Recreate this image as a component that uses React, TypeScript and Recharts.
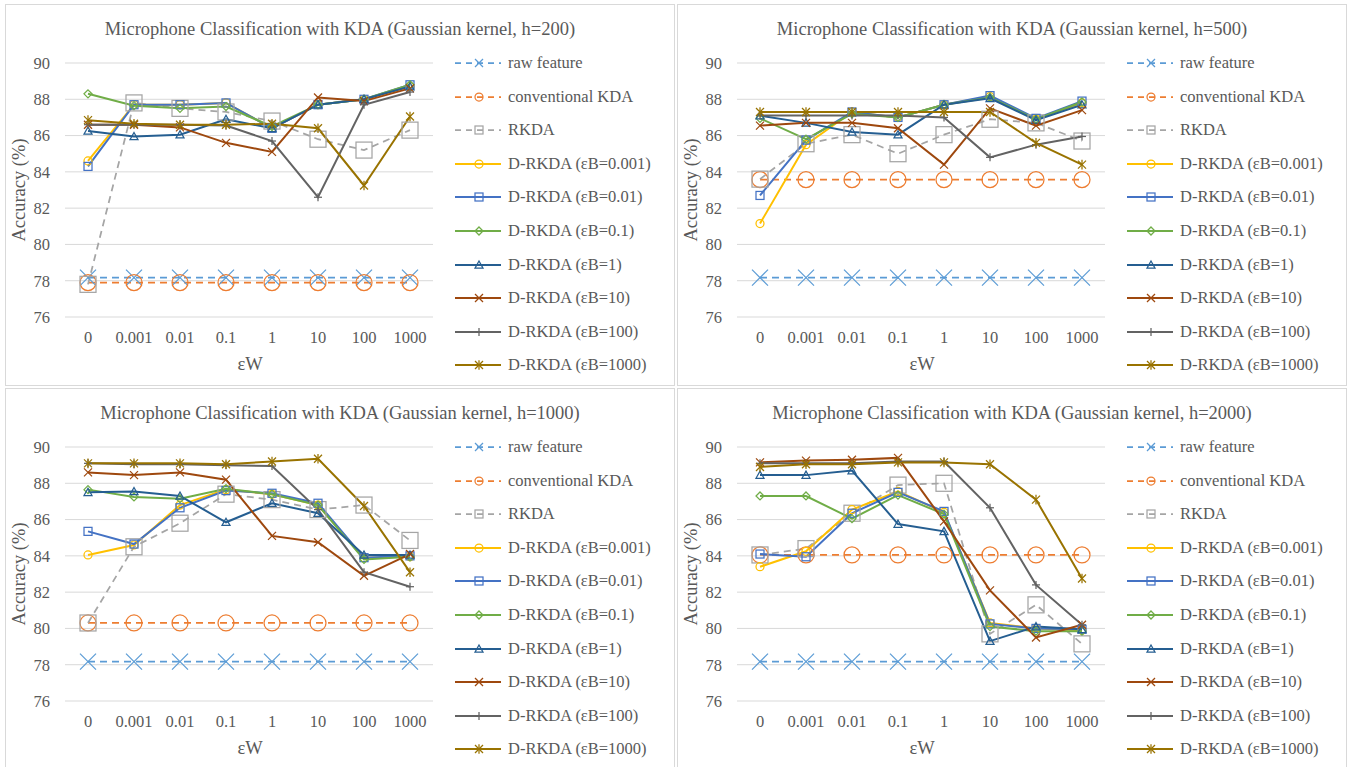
import React from 'react'
import { LineChart, Line, XAxis, YAxis, CartesianGrid } from 'recharts'

const CATEGORIES = ['0', '0.001', '0.01', '0.1', '1', '10', '100', '1000']
const Y_TICKS = [76, 78, 80, 82, 84, 86, 88, 90]

const SERIES_NAMES = [
  'raw feature',
  'conventional KDA',
  'RKDA',
  'D-RKDA (εB=0.001)',
  'D-RKDA (εB=0.01)',
  'D-RKDA (εB=0.1)',
  'D-RKDA (εB=1)',
  'D-RKDA (εB=10)',
  'D-RKDA (εB=100)',
  'D-RKDA (εB=1000)',
]
const COLORS = ['#5B9BD5', '#ED7D31', '#A5A5A5', '#FFC000', '#4472C4', '#70AD47', '#255E91', '#9E480E', '#636363', '#997300']
const SHAPES = ['x', 'circle', 'square', 'circle', 'square', 'diamond', 'triangle', 'x', 'plus', 'star']

// one row per series, same order as SERIES_NAMES
const H200 = [
  [78.17, 78.17, 78.17, 78.17, 78.17, 78.17, 78.17, 78.17],
  [77.9, 77.9, 77.9, 77.9, 77.9, 77.9, 77.9, 77.9],
  [77.8, 87.8, 87.5, 87.3, 86.8, 85.8, 85.2, 86.3],
  [84.6, 87.7, 87.7, 87.8, 86.4, 87.7, 88.0, 88.7],
  [84.3, 87.7, 87.7, 87.8, 86.4, 87.7, 88.0, 88.8],
  [88.3, 87.65, 87.5, 87.6, 86.5, 87.7, 88.0, 88.8],
  [86.25, 85.95, 86.05, 86.9, 86.4, 87.7, 88.0, 88.7],
  [86.6, 86.6, 86.45, 85.6, 85.1, 88.1, 87.9, 88.6],
  [86.6, 86.6, 86.6, 86.55, 85.7, 82.6, 87.7, 88.4],
  [86.85, 86.65, 86.6, 86.6, 86.65, 86.4, 83.25, 87.05],
]

const H500 = [
  [78.17, 78.17, 78.17, 78.17, 78.17, 78.17, 78.17, 78.17],
  [83.57, 83.57, 83.57, 83.57, 83.57, 83.57, 83.57, 83.57],
  [83.6, 85.55, 86.05, 85.0, 86.05, 86.9, 86.7, 85.7],
  [81.15, 85.5, 87.3, 87.0, 87.7, 88.15, 86.9, 87.8],
  [82.7, 85.75, 87.3, 87.0, 87.7, 88.2, 86.95, 87.9],
  [86.95, 85.8, 87.2, 87.0, 87.7, 88.1, 86.9, 87.85],
  [87.1, 86.7, 86.2, 86.05, 87.7, 88.05, 86.85, 87.7],
  [86.55, 86.7, 86.7, 86.4, 84.4, 87.5, 86.55, 87.4],
  [87.1, 87.1, 87.1, 87.1, 87.0, 84.8, 85.5, 85.95],
  [87.3, 87.3, 87.3, 87.3, 87.3, 87.3, 85.6, 84.4],
]

const H1000 = [
  [78.17, 78.17, 78.17, 78.17, 78.17, 78.17, 78.17, 78.17],
  [80.3, 80.3, 80.3, 80.3, 80.3, 80.3, 80.3, 80.3],
  [80.3, 84.5, 85.8, 87.4, 87.1, 86.55, 86.8, 84.85],
  [84.05, 84.6, 86.8, 87.65, 87.4, 86.8, 83.9, 83.95],
  [85.35, 84.65, 86.65, 87.6, 87.45, 86.9, 83.9, 84.0],
  [87.65, 87.25, 87.15, 87.7, 87.4, 86.8, 83.8, 83.95],
  [87.5, 87.55, 87.3, 85.85, 86.9, 86.35, 84.05, 84.05],
  [88.6, 88.45, 88.6, 88.2, 85.1, 84.75, 82.9, 84.1],
  [89.1, 89.05, 89.05, 89.0, 88.95, 86.55, 83.1, 82.3],
  [89.1, 89.1, 89.1, 89.05, 89.2, 89.35, 86.75, 83.1],
]

const H2000 = [
  [78.17, 78.17, 78.17, 78.17, 78.17, 78.17, 78.17, 78.17],
  [84.05, 84.05, 84.05, 84.05, 84.05, 84.05, 84.05, 84.05],
  [84.05, 84.4, 86.35, 87.9, 88.0, 79.7, 81.3, 79.15],
  [83.4, 84.25, 86.55, 87.55, 86.4, 80.3, 80.0, 79.9],
  [84.1, 83.95, 86.35, 87.5, 86.45, 80.25, 80.0, 79.95],
  [87.3, 87.3, 86.05, 87.35, 86.3, 80.1, 79.85, 79.85],
  [88.45, 88.45, 88.7, 85.75, 85.35, 79.3, 80.1, 79.95],
  [89.15, 89.25, 89.3, 89.4, 85.9, 82.1, 79.5, 80.2],
  [89.1, 89.1, 89.1, 89.2, 89.2, 86.65, 82.4, 80.2],
  [88.9, 89.05, 89.05, 89.15, 89.15, 89.05, 87.1, 82.75],
]

const FONT = 'Liberation Serif, Times New Roman, Times, DejaVu Serif, serif'
const TEXT = '#595959'

function Marker({ shape, cx, cy, color, s }: { shape: string; cx: number; cy: number; color: string; s: number }) {
  const sw = 1.25
  if (shape === 'x')
    return (
      <g stroke={color} strokeWidth={sw}>
        <line x1={cx - s} y1={cy - s} x2={cx + s} y2={cy + s} />
        <line x1={cx - s} y1={cy + s} x2={cx + s} y2={cy - s} />
      </g>
    )
  if (shape === 'circle') return <circle cx={cx} cy={cy} r={s} fill="none" stroke={color} strokeWidth={sw} />
  if (shape === 'square')
    return <rect x={cx - s} y={cy - s} width={2 * s} height={2 * s} fill="none" stroke={color} strokeWidth={sw} />
  if (shape === 'diamond')
    return (
      <polygon
        points={`${cx},${cy - s} ${cx + s},${cy} ${cx},${cy + s} ${cx - s},${cy}`}
        fill="none"
        stroke={color}
        strokeWidth={sw}
      />
    )
  if (shape === 'triangle')
    return (
      <polygon
        points={`${cx},${cy - s} ${cx + s},${cy + s * 0.8} ${cx - s},${cy + s * 0.8}`}
        fill="none"
        stroke={color}
        strokeWidth={sw}
      />
    )
  if (shape === 'plus')
    return (
      <g stroke={color} strokeWidth={sw}>
        <line x1={cx - s} y1={cy} x2={cx + s} y2={cy} />
        <line x1={cx} y1={cy - s} x2={cx} y2={cy + s} />
      </g>
    )
  // star: X plus a vertical bar
  return (
    <g stroke={color} strokeWidth={sw}>
      <line x1={cx - s} y1={cy - s} x2={cx + s} y2={cy + s} />
      <line x1={cx - s} y1={cy + s} x2={cx + s} y2={cy - s} />
      <line x1={cx} y1={cy - s * 1.2} x2={cx} y2={cy + s * 1.2} />
    </g>
  )
}

function markerSize(i: number) {
  return i < 3 ? 8 : 4
}

function Panel({ title, values, left, top }: { title: string; values: number[][]; left: number; top: number }) {
  const rows = CATEGORIES.map((c, j) => {
    const r: { [k: string]: string | number } = { x: c }
    values.forEach((v, i) => {
      r[`s${i}`] = v[j]
    })
    return r
  })

  return (
    <div
      style={{
        position: 'absolute',
        left,
        top,
        width: 670,
        height: 382,
        border: '1px solid #d9d9d9',
        boxSizing: 'border-box',
        background: '#fff',
        fontFamily: FONT,
        color: TEXT,
      }}
    >
      <div style={{ position: 'absolute', left: -1, top: -1 }}>
        <LineChart
          width={670}
          height={380}
          data={rows}
          margin={{ top: 59, right: 242, bottom: 0, left: 0 }}
          style={{ fontFamily: FONT }}
        >
          <CartesianGrid vertical={false} stroke="#d9d9d9" strokeWidth={1} />
          <XAxis
            dataKey="x"
            height={67}
            axisLine={false}
            tickLine={false}
            tickMargin={8}
            padding={{ left: 23, right: 23 }}
            tick={{ fontSize: 16.5, fill: TEXT, fontFamily: FONT }}
            interval={0}
          />
          <YAxis
            width={60}
            domain={[76, 90]}
            ticks={Y_TICKS}
            axisLine={false}
            tickLine={false}
            tickMargin={9}
            tick={{ fontSize: 16.5, fill: TEXT, fontFamily: FONT }}
          />
          {values.map((_, i) => (
            <Line
              key={i}
              dataKey={`s${i}`}
              type="linear"
              stroke={COLORS[i]}
              strokeWidth={i < 3 ? 1.75 : 2}
              strokeDasharray={i < 3 ? '7 5' : undefined}
              isAnimationActive={false}
              activeDot={false}
              dot={(p: any) => (
                <Marker
                  key={`d${i}-${p.index}`}
                  shape={SHAPES[i]}
                  cx={p.cx}
                  cy={p.cy}
                  color={COLORS[i]}
                  s={markerSize(i)}
                />
              )}
            />
          ))}
        </LineChart>
      </div>

      <div
        style={{
          position: 'absolute',
          left: 334,
          top: 24,
          transform: 'translate(-50%, -50%)',
          whiteSpace: 'nowrap',
          fontSize: 18.5,
        }}
      >
        {title}
      </div>

      <div
        style={{
          position: 'absolute',
          left: 13,
          top: 185,
          transform: 'translate(-50%, -50%) rotate(-90deg)',
          whiteSpace: 'nowrap',
          fontSize: 18.5,
        }}
      >
        Accuracy (%)
      </div>

      <div
        style={{
          position: 'absolute',
          left: 244,
          top: 359,
          transform: 'translate(-50%, -50%)',
          whiteSpace: 'nowrap',
          fontSize: 18.5,
        }}
      >
        εW
      </div>

      {SERIES_NAMES.map((name, i) => (
        <div
          key={name}
          style={{
            position: 'absolute',
            left: 448,
            top: 58 + i * 33.6,
            transform: 'translateY(-50%)',
            display: 'flex',
            alignItems: 'center',
            whiteSpace: 'nowrap',
            fontSize: 16.5,
          }}
        >
          <svg width={48} height={16} style={{ marginRight: 6, flexShrink: 0 }}>
            <line
              x1={1}
              y1={8}
              x2={47}
              y2={8}
              stroke={COLORS[i]}
              strokeWidth={i < 3 ? 1.75 : 2}
              strokeDasharray={i < 3 ? '6 5' : undefined}
            />
            <Marker shape={SHAPES[i]} cx={25} cy={8} color={COLORS[i]} s={4} />
          </svg>
          <span>{name}</span>
        </div>
      ))}
    </div>
  )
}

export default function App() {
  return (
    <div style={{ position: 'absolute', left: 0, top: 0, width: 1364, height: 767, background: '#fff' }}>
      <Panel title="Microphone Classification with KDA (Gaussian kernel, h=200)" values={H200} left={5} top={4} />
      <Panel title="Microphone Classification with KDA (Gaussian kernel, h=500)" values={H500} left={677} top={4} />
      <Panel title="Microphone Classification with KDA (Gaussian kernel, h=1000)" values={H1000} left={5} top={388} />
      <Panel title="Microphone Classification with KDA (Gaussian kernel, h=2000)" values={H2000} left={677} top={388} />
    </div>
  )
}
